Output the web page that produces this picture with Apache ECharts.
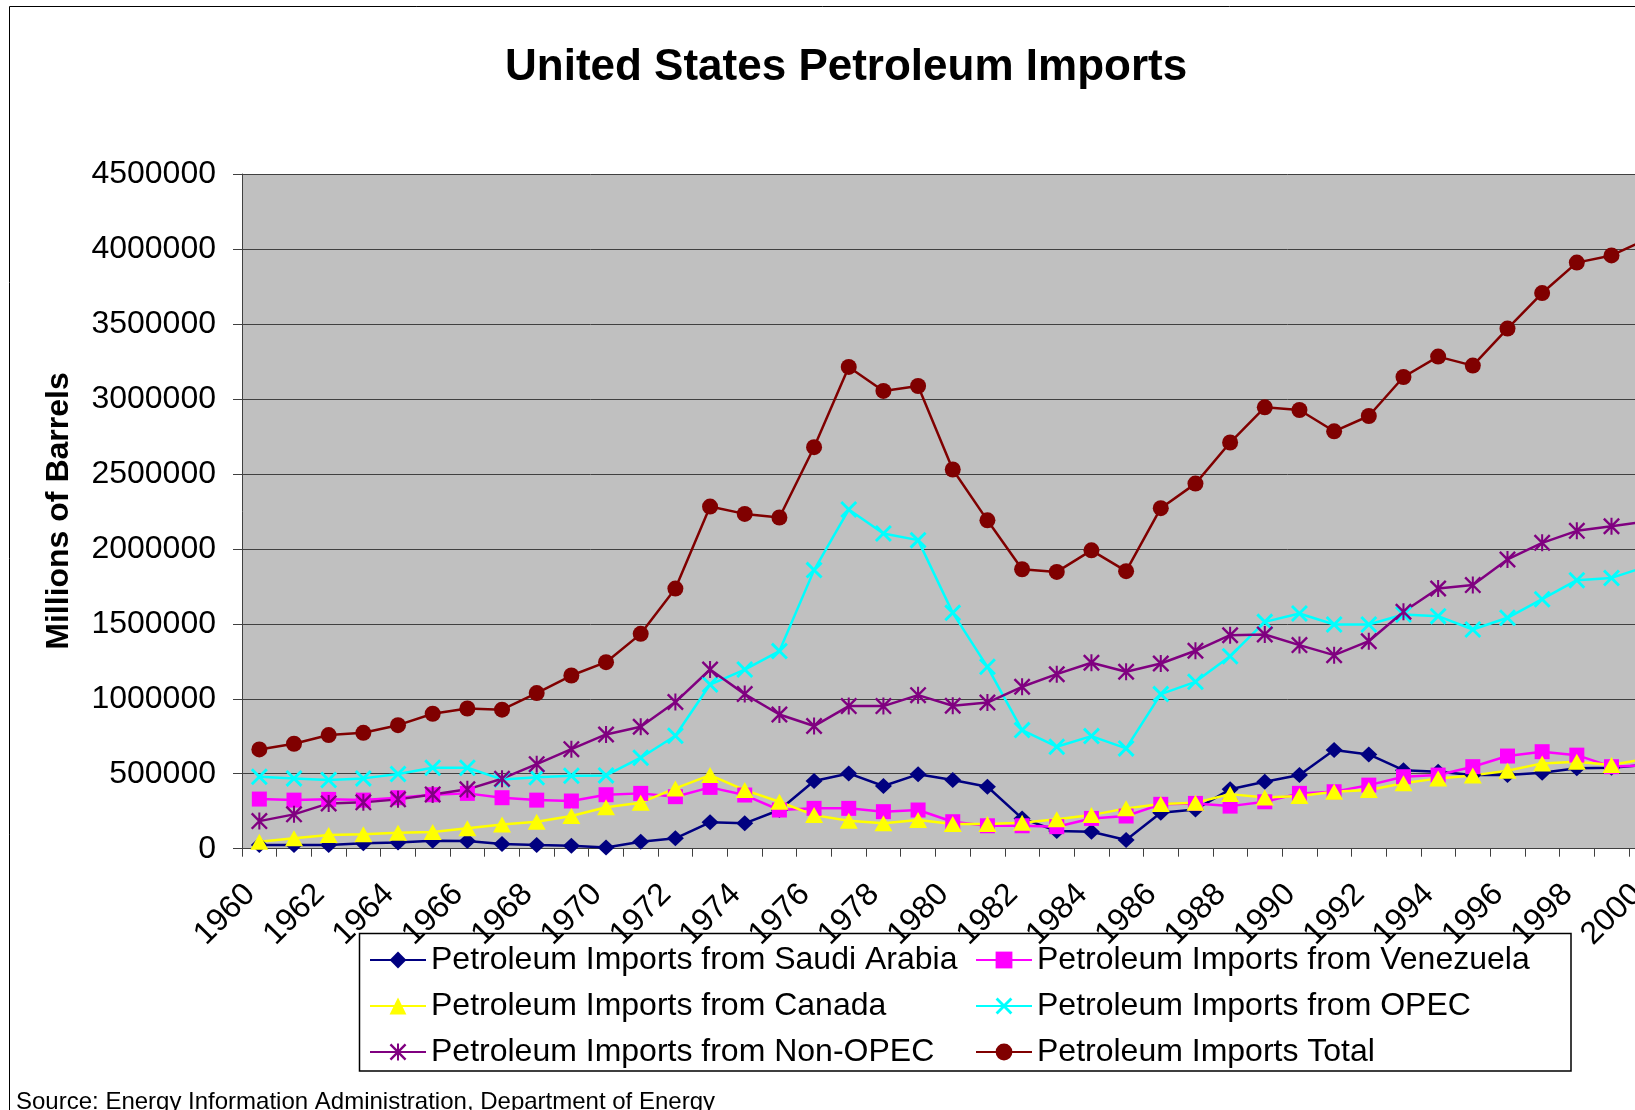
<!DOCTYPE html>
<html>
<head>
<meta charset="utf-8">
<script src="https://cdn.jsdelivr.net/npm/echarts@6/dist/echarts.min.js"></script>
<style>html,body{margin:0;padding:0;background:#fff}#c{width:1635px;height:1110px}</style>
</head>
<body>
<div id="c"></div>
<script>
const years = [];
for (let y = 1960; y <= 2000; y++) years.push(String(y));

const saudiArabia = [24000,24000,25000,36000,42000,53000,51000,31000,24000,20000,8000,47000,69000,176000,169000,258000,451000,502000,418000,496000,458000,413000,202000,118000,113000,58000,240000,262000,396000,447000,491000,658000,629000,524000,513000,491000,491000,507000,536000,540000,560000];
const venezuela = [331000,324000,329000,324000,340000,360000,369000,340000,324000,318000,360000,369000,347000,409000,358000,258000,269000,269000,247000,258000,180000,153000,153000,147000,202000,218000,296000,302000,284000,313000,369000,380000,424000,480000,491000,547000,618000,647000,624000,547000,555000];
const canada = [47000,69000,91000,96000,107000,111000,136000,162000,180000,218000,276000,307000,402000,491000,391000,313000,224000,187000,169000,191000,164000,164000,173000,196000,224000,269000,298000,307000,364000,342000,351000,380000,391000,436000,469000,489000,520000,569000,580000,558000,600000];
const opec = [480000,469000,458000,469000,498000,540000,540000,462000,476000,487000,489000,607000,753000,1095000,1195000,1318000,1858000,2262000,2102000,2058000,1573000,1213000,791000,680000,751000,669000,1031000,1113000,1284000,1513000,1569000,1495000,1495000,1562000,1551000,1462000,1540000,1664000,1791000,1806000,1882000];
const nonOpec = [184000,229000,302000,309000,329000,362000,396000,467000,564000,664000,762000,813000,978000,1195000,1031000,895000,818000,951000,951000,1024000,953000,975000,1080000,1164000,1240000,1180000,1235000,1320000,1424000,1429000,1358000,1291000,1384000,1580000,1735000,1758000,1929000,2040000,2120000,2151000,2182000];
const total = [662000,700000,758000,773000,824000,900000,935000,927000,1038000,1155000,1244000,1433000,1735000,2282000,2233000,2209000,2678000,3213000,3053000,3086000,2529000,2190000,1864000,1846000,1990000,1851000,2271000,2435000,2709000,2944000,2926000,2784000,2886000,3146000,3282000,3222000,3469000,3706000,3909000,3957000,4062000];

const seriesNames = [
  'Petroleum Imports from Saudi Arabia',
  'Petroleum Imports from Venezuela',
  'Petroleum Imports from Canada',
  'Petroleum Imports from OPEC',
  'Petroleum Imports from Non-OPEC',
  'Petroleum Imports Total'
];
const yTicks = { min: 0, max: 4500000, step: 500000 };

const FONT = "'Liberation Sans', Arial, sans-serif";
const X_PATH = 'path://M0 12 L12 0 L100 88 L88 100 Z M88 0 L100 12 L12 100 L0 88 Z';
const STAR_PATH = 'path://M0 10 L10 0 L100 90 L90 100 Z M90 0 L100 10 L10 100 L0 90 Z M44 0 L56 0 L56 100 L44 100 Z';

function mk(name, data, color, symbol, size) {
  return {
    name: name, type: 'line', data: data,
    symbol: symbol, symbolSize: size, showSymbol: true,
    lineStyle: { color: color, width: 2.5 },
    itemStyle: { color: color, borderWidth: 0 },
    emphasis: { disabled: true },
    clip: true
  };
}

const chart = echarts.init(document.getElementById('c'), null, { renderer: 'canvas' });
chart.setOption({
  animation: false,
  backgroundColor: '#ffffff',
  textStyle: { fontFamily: FONT },
  title: {
    text: 'United States Petroleum Imports',
    left: 505, top: 46, padding: 0,
    textStyle: { fontSize: 44, fontWeight: 'bold', color: '#000', fontFamily: FONT }
  },
  grid: {
    left: 242, top: 174, width: 1421.5, height: 674.7,
    show: true, backgroundColor: '#C0C0C0', borderWidth: 0,
    containLabel: false, outerBoundsMode: 'none'
  },
  xAxis: {
    type: 'category', data: years, boundaryGap: true,
    axisLine: { show: true, lineStyle: { color: '#404040', width: 1 } },
    axisTick: { show: true, interval: 0, length: 8, lineStyle: { color: '#404040' } },
    axisLabel: { interval: 1, rotate: 45, fontSize: 32, lineHeight: 26, color: '#000', margin: 50, verticalAlign: 'bottom', fontFamily: FONT, hideOverlap: false },
    splitLine: { show: false }
  },
  yAxis: {
    type: 'value', min: yTicks.min, max: yTicks.max, interval: yTicks.step,
    axisLine: { show: true, lineStyle: { color: '#404040', width: 1 } },
    axisTick: { show: true, length: 9, lineStyle: { color: '#404040' } },
    axisLabel: { fontSize: 32, color: '#000', margin: 26, fontFamily: FONT, formatter: v => String(v) },
    splitLine: { show: true, lineStyle: { color: '#404040', width: 1 } }
  },
  legend: [
    {
      orient: 'vertical', left: 369, top: 942, padding: 0, itemGap: 10,
      itemWidth: 56, itemHeight: 21, selectedMode: false,
      data: [seriesNames[0], seriesNames[2], seriesNames[4]],
      textStyle: { fontSize: 32, color: '#000', lineHeight: 36, fontFamily: FONT }
    },
    {
      orient: 'vertical', left: 975, top: 942, padding: 0, itemGap: 10,
      itemWidth: 56, itemHeight: 21, selectedMode: false,
      data: [seriesNames[1], seriesNames[3], seriesNames[5]],
      textStyle: { fontSize: 32, color: '#000', lineHeight: 36, fontFamily: FONT }
    }
  ],
  graphic: [
    { type: 'rect', shape: { x: 9.5, y: 6.5, width: 1700, height: 1200 }, style: { fill: 'none', stroke: '#000', lineWidth: 1 }, z: 0, silent: true },
    { type: 'rect', shape: { x: 359.5, y: 933.5, width: 1211.5, height: 137.5 }, style: { fill: 'none', stroke: '#000', lineWidth: 1.5 }, z: 0, silent: true },
    { type: 'text', x: 59, y: 511, rotation: Math.PI / 2, style: { text: 'Millions of Barrels', fontSize: 32, fontWeight: 'bold', fill: '#000', fontFamily: FONT, textAlign: 'center', textVerticalAlign: 'middle' }, silent: true },
    { type: 'text', x: 16, y: 1102, style: { text: 'Source: Energy Information Administration, Department of Energy', fontSize: 24, fill: '#000', fontFamily: FONT, textAlign: 'left', textVerticalAlign: 'middle' }, silent: true }
  ],
  series: [
    mk(seriesNames[0], saudiArabia, '#000080', 'diamond', [17, 16]),
    mk(seriesNames[1], venezuela, '#FF00FF', 'rect', 15),
    mk(seriesNames[2], canada, '#FFFF00', 'triangle', [18, 16]),
    mk(seriesNames[3], opec, '#00FFFF', X_PATH, 17),
    mk(seriesNames[4], nonOpec, '#800080', STAR_PATH, 17),
    mk(seriesNames[5], total, '#800000', 'circle', 16)
  ]
});
</script>
</body>
</html>
